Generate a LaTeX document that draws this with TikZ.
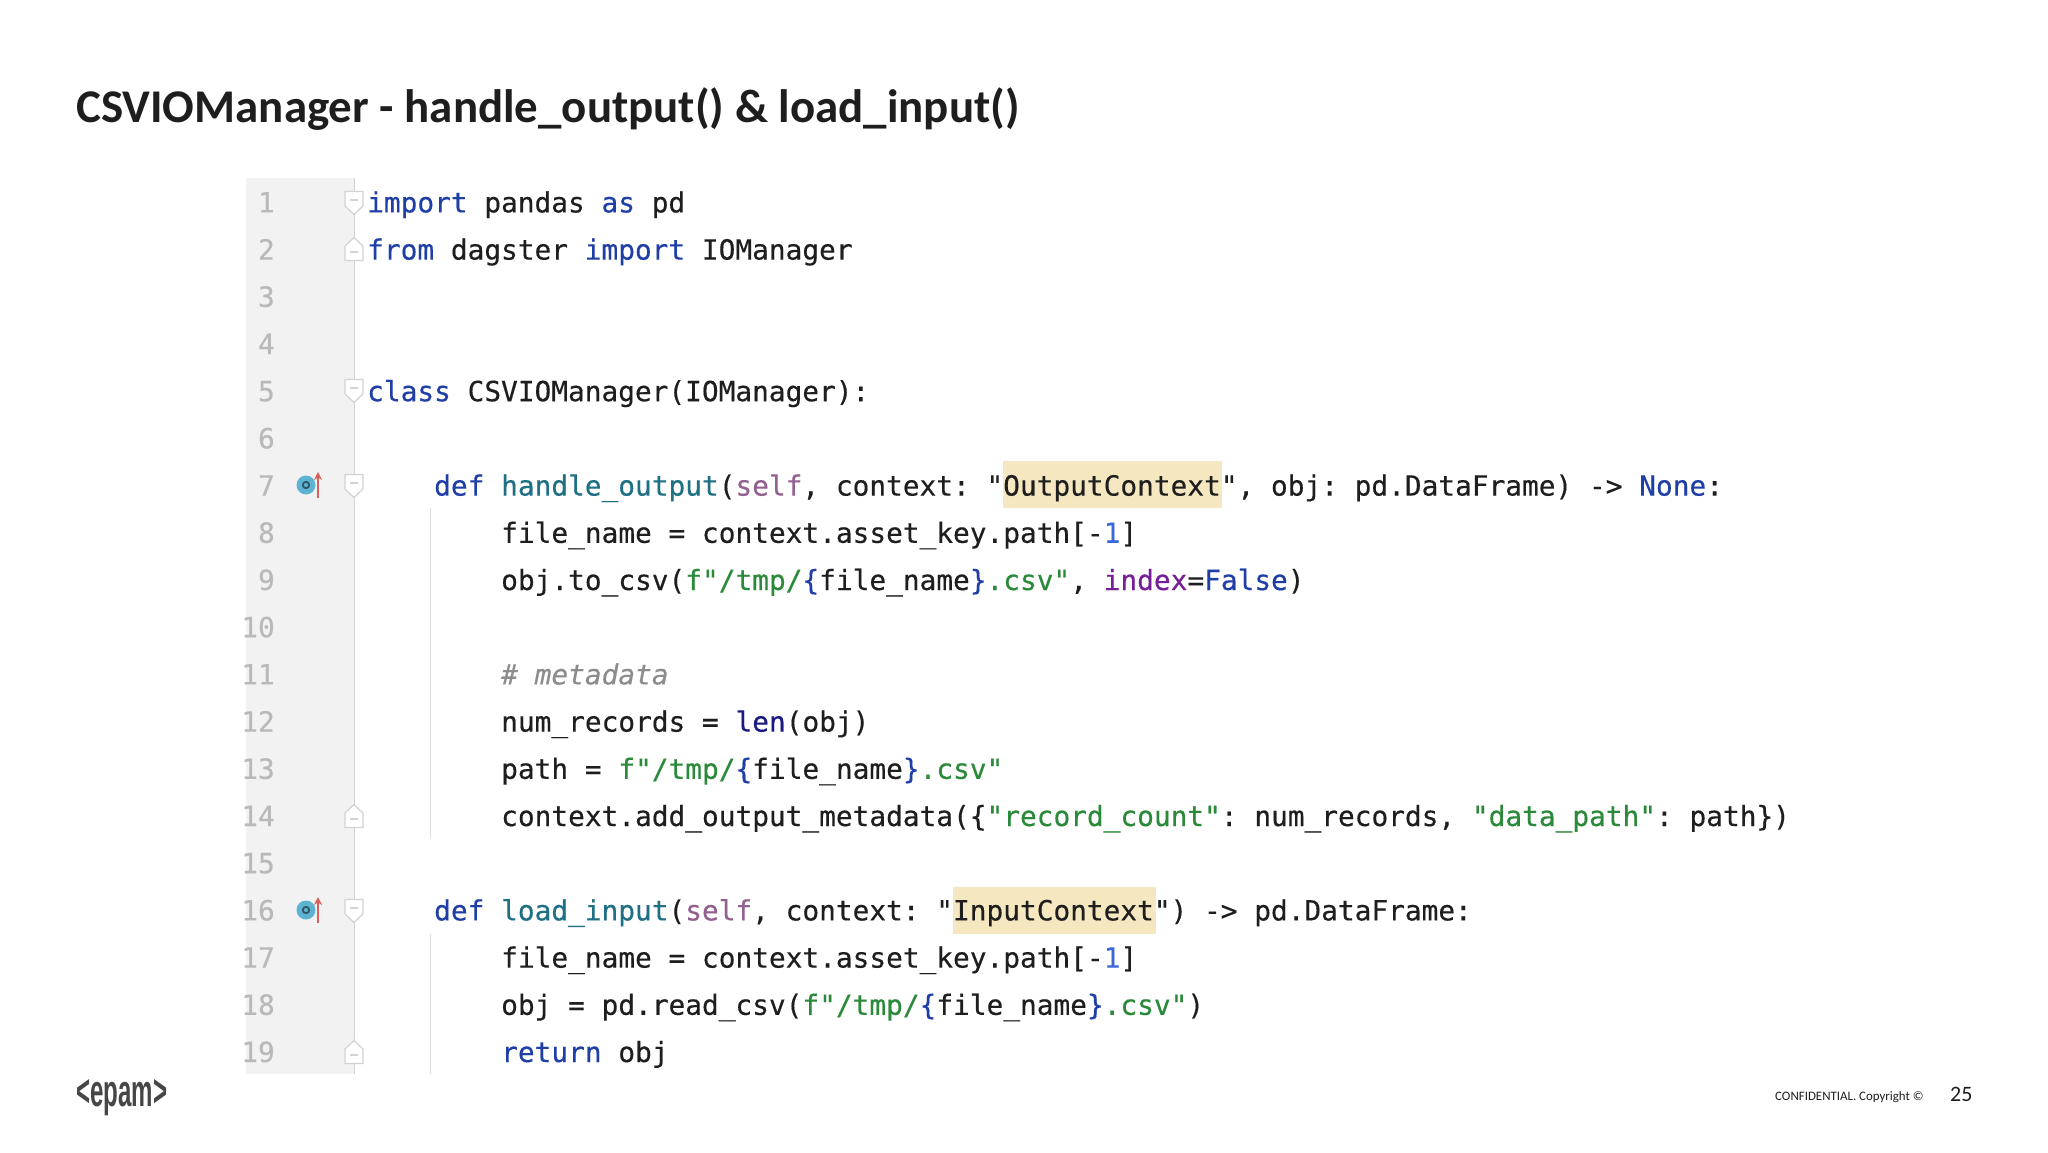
\documentclass[tikz,border=0pt]{standalone}
\usepackage{fontspec}
\usetikzlibrary{arrows.meta}
\setmainfont{Carlito}
\newfontfamily\codefont[FakeBold=0.35]{DejaVu Sans Mono}
\newfontfamily\logofont{Liberation Sans}
\definecolor{kwblue}{HTML}{1F3FA6}
\definecolor{fnteal}{HTML}{1F6F85}
\definecolor{selfpink}{HTML}{94608F}
\definecolor{strgreen}{HTML}{2A8A3A}
\definecolor{numblue}{HTML}{3A68D8}
\definecolor{argpurple}{HTML}{771F99}
\definecolor{builtin}{HTML}{1A1A80}
\definecolor{cmtgray}{HTML}{8C8C8C}
\definecolor{codeink}{HTML}{1E1E1E}
\definecolor{gutterbg}{HTML}{F2F2F2}
\definecolor{gutterln}{HTML}{D2D2D2}
\definecolor{lineno}{HTML}{B9B9B9}
\definecolor{hilite}{HTML}{F5E8C0}
\definecolor{logoink}{HTML}{464547}
\definecolor{icontint}{HTML}{5DB4D2}
\definecolor{icondark}{HTML}{2F5566}
\definecolor{iconred}{HTML}{D8605C}
\newcommand{\kw}[1]{\textcolor{kwblue}{#1}}
\newcommand{\fn}[1]{\textcolor{fnteal}{#1}}
\newcommand{\slf}[1]{\textcolor{selfpink}{#1}}
\newcommand{\str}[1]{\textcolor{strgreen}{#1}}
\newcommand{\num}[1]{\textcolor{numblue}{#1}}
\newcommand{\argn}[1]{\textcolor{argpurple}{#1}}
\newcommand{\bltn}[1]{\textcolor{builtin}{#1}}
\tikzset{
  codeline/.style={anchor=base west,inner sep=0pt,text=codeink,font=\codefont\frenchspacing\fontsize{27.8}{30}\selectfont},
  linenum/.style={anchor=base east,inner sep=0pt,text=lineno,font=\codefont\fontsize{27.8}{30}\selectfont},
  foldmark/.style={draw=gutterln,fill=white,line width=1.2pt},
  slidetext/.style={anchor=base west,inner sep=0pt,text=codeink},
}
% fold marker: 1 = centre y, 2 = direction of the point (+1 down, -1 up)
\newcommand{\foldat}[2]{
  \draw[foldmark] (345,{#1-11.5*#2}) -- (363,{#1-11.5*#2}) -- (363,{#1+3*#2}) -- (354,{#1+11.5*#2}) -- (345,{#1+3*#2}) -- cycle;
  \draw[gutterln,line width=1.2pt] (350,{#1-3*#2}) -- (358,{#1-3*#2});
}
% overriding gutter icon on lines 7 and 16
\newcommand{\iconat}[1]{
  \fill[icontint] (306,#1) circle (9.5);
  \draw[icondark,line width=1.8pt] (306,#1) circle (3.2);
  \draw[iconred,line width=2pt,-{Stealth[length=8pt,width=8pt]}] (318,#1+13) -- (318,#1-13);
}
\begin{document}
\begin{tikzpicture}[x=1pt,y=-1pt]
\useasboundingbox (0,0) rectangle (2048,1152);
\fill[white] (0,0) rectangle (2048,1152);
\fill[gutterbg] (246,178) rectangle (354,1074);
\draw[gutterln,line width=1pt] (354,178) -- (354,1074);
% highlights
\fill[hilite] (1003,461) rectangle (1222,508);
\fill[hilite] (953,887) rectangle (1156,934);
% indent guides
\draw[gutterln!70!white,line width=1pt] (430,508) -- (430,838);
\draw[gutterln!70!white,line width=1pt] (430,934) -- (430,1074);
% line numbers
\foreach \n in {1,...,19}
  \node[linenum] (num\n) at (275,{212.4+47.2*(\n-1)}) {\n};
% fold markers
\foldat{203}{1}
\foldat{249}{-1}
\foldat{391}{1}
\foldat{486}{1}
\foldat{816}{-1}
\foldat{911}{1}
\foldat{1052}{-1}
\iconat{485}
\iconat{910}
% code
\node[codeline] (line1) at (367,212.4) {\kw{import} pandas \kw{as} pd};
\node[codeline] (line2) at (367,259.6) {\kw{from} dagster \kw{import} IOManager};
\node[codeline] (line5) at (367,401.2) {\kw{class} CSVIOManager(IOManager):};
\node[codeline] (line7) at (434,495.6) {\kw{def} \fn{handle\_output}(\slf{self}, context: "OutputContext", obj: pd.DataFrame) -> \kw{None}:};
\node[codeline] (line8) at (501,542.8) {file\_name = context.asset\_key.path[-\num{1}]};
\node[codeline] (line9) at (501,590) {obj.to\_csv(\str{f"/tmp/}\kw{\{}file\_name\kw{\}}\str{.csv"}, \argn{index}=\kw{False})};
\node[codeline,text=cmtgray] (line11) at (501,684.4) {\itshape \# metadata};
\node[codeline] (line12) at (501,731.6) {num\_records = \bltn{len}(obj)};
\node[codeline] (line13) at (501,778.8) {path = \str{f"/tmp/}\kw{\{}file\_name\kw{\}}\str{.csv"}};
\node[codeline] (line14) at (501,826) {context.add\_output\_metadata(\{\str{"record\_count"}: num\_records, \str{"data\_path"}: path\})};
\node[codeline] (line16) at (434,920.4) {\kw{def} \fn{load\_input}(\slf{self}, context: "InputContext") -> pd.DataFrame:};
\node[codeline] (line17) at (501,967.6) {file\_name = context.asset\_key.path[-\num{1}]};
\node[codeline] (line18) at (501,1014.8) {obj = pd.read\_csv(\str{f"/tmp/}\kw{\{}file\_name\kw{\}}\str{.csv"})};
\node[codeline] (line19) at (501,1062) {\kw{return} obj};
% slide furniture
\node[slidetext,font=\bfseries\fontsize{46.9}{50}\selectfont] (title) at (76,122) {CSVIOManager - handle\_output() \& load\_input()};
\node[slidetext,font=\logofont\bfseries\fontsize{45}{50}\selectfont,text=logoink,xscale=.535,transform shape] (logo) at (76,1106) {<epam>};
\node[slidetext,font=\fontsize{12.9}{16}\selectfont] (footer) at (1775,1100) {CONFIDENTIAL. Copyright ©};
\node[slidetext,font=\fontsize{22}{24}\selectfont] (page) at (1950,1101) {25};
\end{tikzpicture}
\end{document}
